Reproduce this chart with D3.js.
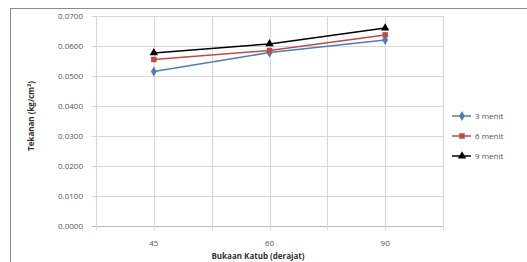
<!DOCTYPE html>
<html><head><meta charset="utf-8">
<script src="https://cdn.jsdelivr.net/npm/d3@7"></script>
<style>body{margin:0;background:#fff}svg{display:block}text{font-family:"Open Sans","Liberation Sans",sans-serif}</style>
</head><body><svg id="c" width="527" height="262"></svg>
<script>
const categories = ["45", "60", "90"];
const yTicks = [0, 0.01, 0.02, 0.03, 0.04, 0.05, 0.06, 0.07];
const seriesNames = ["3 menit", "6 menit", "9 menit"];
const menit3 = [0.0515, 0.0578, 0.0620];
const menit6 = [0.0555, 0.0585, 0.0637];
const menit9 = [0.0577, 0.0607, 0.0660];
const seriesValues = [menit3, menit6, menit9];
const colors = ["#4a7ebb", "#be4b48", "#000000"];
const symbols = [d3.symbolDiamond, d3.symbolSquare, d3.symbolTriangle];

const svg = d3.select("#c");
svg.append("rect").attr("x",10.5).attr("y",8.5).attr("width",530).attr("height",270)
  .attr("fill","#fff").attr("stroke","#8c8c8c").attr("stroke-width",1);

const x = d3.scaleBand().domain(categories).range([96, 443]);
const y = d3.scaleLinear().domain([0, 0.07]).range([226, 16]);

const g = svg.append("g");
g.selectAll(".hg").data(yTicks).enter().append("line")
  .attr("x1",92).attr("x2",443).attr("y1",d=>Math.round(y(d))+0.5).attr("y2",d=>Math.round(y(d))+0.5)
  .attr("stroke",d=>d===0?"#bdbdbd":"#d6d6d6").attr("stroke-width",1);
const vx = [];
categories.forEach((c,i)=>{ vx.push(x(c)); vx.push(x(c)+x.bandwidth()/2); });
vx.push(x.range()[1]);
g.selectAll(".vg").data(vx).enter().append("line")
  .attr("x1",d=>Math.round(d)+0.5).attr("x2",d=>Math.round(d)+0.5).attr("y1",16).attr("y2",230)
  .attr("stroke","#d6d6d6").attr("stroke-width",1);

g.selectAll(".yl").data(yTicks).enter().append("text")
  .attr("x",83).attr("y",d=>y(d)+3).attr("text-anchor","end")
  .attr("font-size","8px").attr("fill","#555").text(d=>d3.format(".4f")(d));
g.selectAll(".xl").data(categories).enter().append("text")
  .attr("x",d=>x(d)+x.bandwidth()/2).attr("y",246).attr("text-anchor","middle")
  .attr("font-size","8px").attr("fill","#555").text(d=>d);

svg.append("text").attr("transform","translate(34,116) rotate(-90)").attr("text-anchor","middle")
  .attr("font-size","8px").attr("font-weight","bold").attr("fill","#333").text("Tekanan (kg/cm²)");
svg.append("text").attr("x",258).attr("y",259).attr("text-anchor","middle")
  .attr("font-size","8px").attr("font-weight","bold").attr("fill","#333").text("Bukaan Katub (derajat)");

const line = d3.line().x((d,i)=>x(categories[i])+x.bandwidth()/2).y(d=>y(d));
seriesValues.forEach((vals,s)=>{
  g.append("path").datum(vals).attr("d",line).attr("fill","none")
    .attr("stroke",colors[s]).attr("stroke-width",1.5);
  g.selectAll(".m"+s).data(vals).enter().append("path")
    .attr("transform",(d,i)=>`translate(${x(categories[i])+x.bandwidth()/2},${y(d)})`)
    .attr("d",d3.symbol().type(symbols[s]).size(30)).attr("fill",colors[s]);
});

const leg = svg.append("g");
seriesNames.forEach((n,s)=>{
  const ly = 116 + s*20;
  leg.append("line").attr("x1",452).attr("x2",471).attr("y1",ly).attr("y2",ly)
    .attr("stroke",colors[s]).attr("stroke-width",1.5);
  leg.append("path").attr("transform",`translate(462,${ly})`)
    .attr("d",d3.symbol().type(symbols[s]).size(30)).attr("fill",colors[s]);
  leg.append("text").attr("x",475).attr("y",ly+3).attr("font-size","8px").attr("fill","#555").text(n);
});
</script></body></html>
